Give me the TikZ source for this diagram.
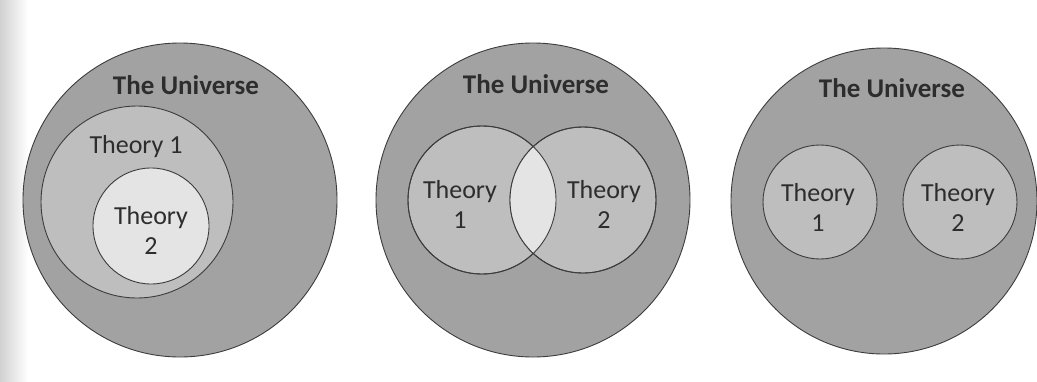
\documentclass[tikz,border=0pt]{standalone}
\usepackage{fontspec}
\setmainfont{Carlito}
\definecolor{univ}{RGB}{162,162,162}
\definecolor{theo}{RGB}{190,190,190}
\definecolor{inner}{RGB}{228,228,228}
\definecolor{edge}{RGB}{60,60,60}
\definecolor{txt}{RGB}{45,45,45}
\begin{document}
\begin{tikzpicture}[x=1pt,y=-1pt,
  uni/.style={circle, draw=edge, line width=0.9pt, fill=univ, minimum size=#1, inner sep=0pt},
  theory/.style={circle, draw=edge, line width=0.9pt, fill=theo, minimum size=#1, inner sep=0pt},
  innerc/.style={circle, draw=edge, line width=0.9pt, fill=inner, minimum size=#1, inner sep=0pt},
  unilabel/.style={font=\bfseries\fontsize{27}{30}\selectfont, text=txt, anchor=base},
  thlabel/.style={font=\fontsize{26}{30}\selectfont, text=txt, align=center}]
\useasboundingbox (0,0) rectangle (1037,381);
\shade[left color=black!18, right color=white] (0,0) rectangle (28,381);
% Diagram 1
\node[uni=314pt] (u1) at (180,200) {};
\node[theory=192pt] (a1) at (137,202) {};
\node[innerc=116pt] (b1) at (151,226) {};
\node[unilabel] (lu1) at (186,94) {The Universe};
\node[thlabel, anchor=base] (la1) at (136,153) {Theory 1};
\node[thlabel] (lb1) at (151,230) {Theory\\2};
% Diagram 2
\node[uni=314pt] (u2) at (533,200) {};
\node[theory=148pt] (a2) at (482,200) {};
\node[theory=146pt] (b2) at (583,200) {};
\begin{scope}
  \clip (a2.center) circle[radius=74pt];
  \fill[inner] (b2.center) circle[radius=73pt];
\end{scope}
\draw[edge, line width=0.9pt] (a2.center) circle[radius=74pt];
\draw[edge, line width=0.9pt] (b2.center) circle[radius=73pt];
\node[unilabel] (lu2) at (536,93) {The Universe};
\node[thlabel] (la2) at (460,204) {Theory\\1};
\node[thlabel] (lb2) at (604,204) {Theory\\2};
% Diagram 3
\node[uni=306pt] (u3) at (884,201) {};
\node[theory=114pt] (a3) at (820,202) {};
\node[theory=114pt] (b3) at (960,202) {};
\node[unilabel] (lu3) at (892,97) {The Universe};
\node[thlabel] (la3) at (818,207) {Theory\\1};
\node[thlabel] (lb3) at (958,207) {Theory\\2};
\end{tikzpicture}
\end{document}
